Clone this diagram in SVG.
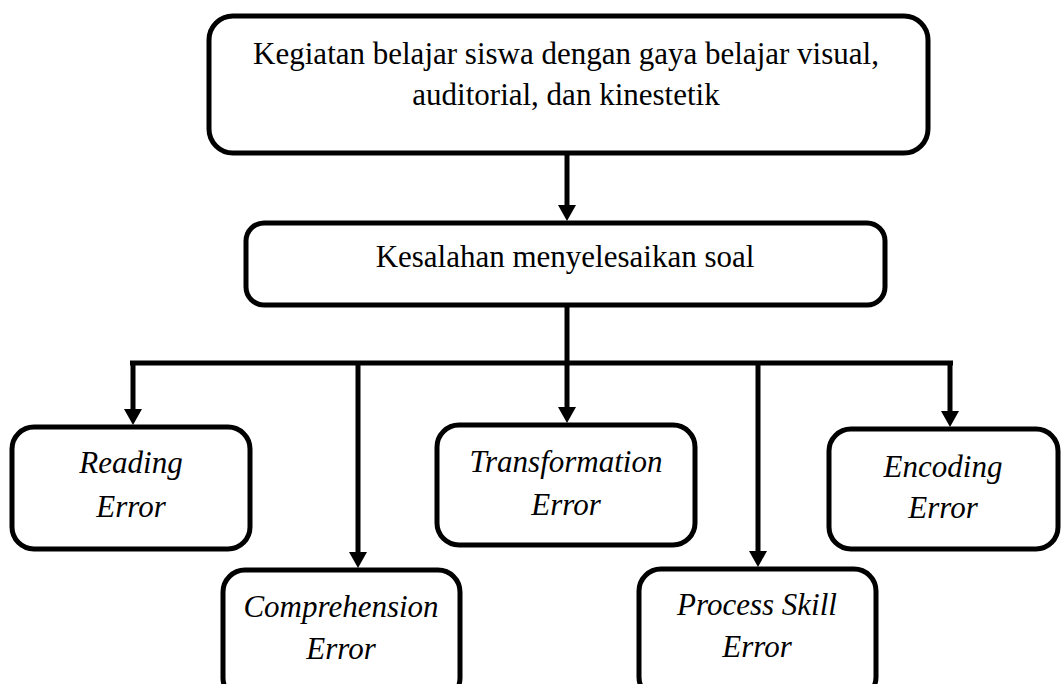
<svg xmlns="http://www.w3.org/2000/svg" width="1063" height="684" viewBox="0 0 1063 684">
<style>
.box{fill:#fff;stroke:#000;stroke-width:5}
.t{font-family:"Liberation Serif","Times New Roman",serif;font-size:31px;fill:#000;text-anchor:middle}
.i{font-style:italic}
.c{fill:none;stroke:#000;stroke-width:5}
</style>
<defs>
<marker id="ah" markerUnits="userSpaceOnUse" markerWidth="18" markerHeight="18" viewBox="0 0 18 18" refX="6" refY="9" orient="auto">
<path d="M0,0 L16,9 L0,18 z" fill="#000"/>
</marker>
</defs>
<g id="connectors">
<line class="c" x1="567" y1="155" x2="567" y2="211" marker-end="url(#ah)"/>
<line class="c" x1="567" y1="307" x2="567" y2="413" marker-end="url(#ah)"/>
<line class="c" x1="130" y1="363" x2="953" y2="363"/>
<line class="c" x1="133" y1="363" x2="133" y2="415" marker-end="url(#ah)"/>
<line class="c" x1="358" y1="363" x2="358" y2="558" marker-end="url(#ah)"/>
<line class="c" x1="758" y1="363" x2="758" y2="557" marker-end="url(#ah)"/>
<line class="c" x1="950" y1="363" x2="950" y2="417" marker-end="url(#ah)"/>
</g>
<g id="n-kegiatan">
<rect class="box" x="209" y="16" width="719" height="137" rx="24"/>
<text class="t" x="566" y="64">Kegiatan belajar siswa dengan gaya belajar visual,</text>
<text class="t" x="566" y="105">auditorial, dan kinestetik</text>
</g>
<g id="n-kesalahan">
<rect class="box" x="246" y="223" width="639" height="82" rx="18"/>
<text class="t" x="565" y="267">Kesalahan menyelesaikan soal</text>
</g>
<g id="n-reading">
<rect class="box" x="12" y="427" width="238" height="122" rx="22"/>
<text class="t i" x="131" y="473">Reading</text>
<text class="t i" x="131" y="517">Error</text>
</g>
<g id="n-comprehension">
<rect class="box" x="223" y="570" width="237" height="130" rx="22"/>
<text class="t i" x="341" y="617">Comprehension</text>
<text class="t i" x="341" y="659">Error</text>
</g>
<g id="n-transformation">
<rect class="box" x="437" y="425" width="258" height="120" rx="22"/>
<text class="t i" x="566" y="472">Transformation</text>
<text class="t i" x="566" y="515">Error</text>
</g>
<g id="n-process">
<rect class="box" x="639" y="569" width="237" height="130" rx="22"/>
<text class="t i" x="757" y="615">Process Skill</text>
<text class="t i" x="757" y="657">Error</text>
</g>
<g id="n-encoding">
<rect class="box" x="829" y="429" width="229" height="120" rx="22"/>
<text class="t i" x="943" y="477">Encoding</text>
<text class="t i" x="943" y="518">Error</text>
</g>
</svg>
